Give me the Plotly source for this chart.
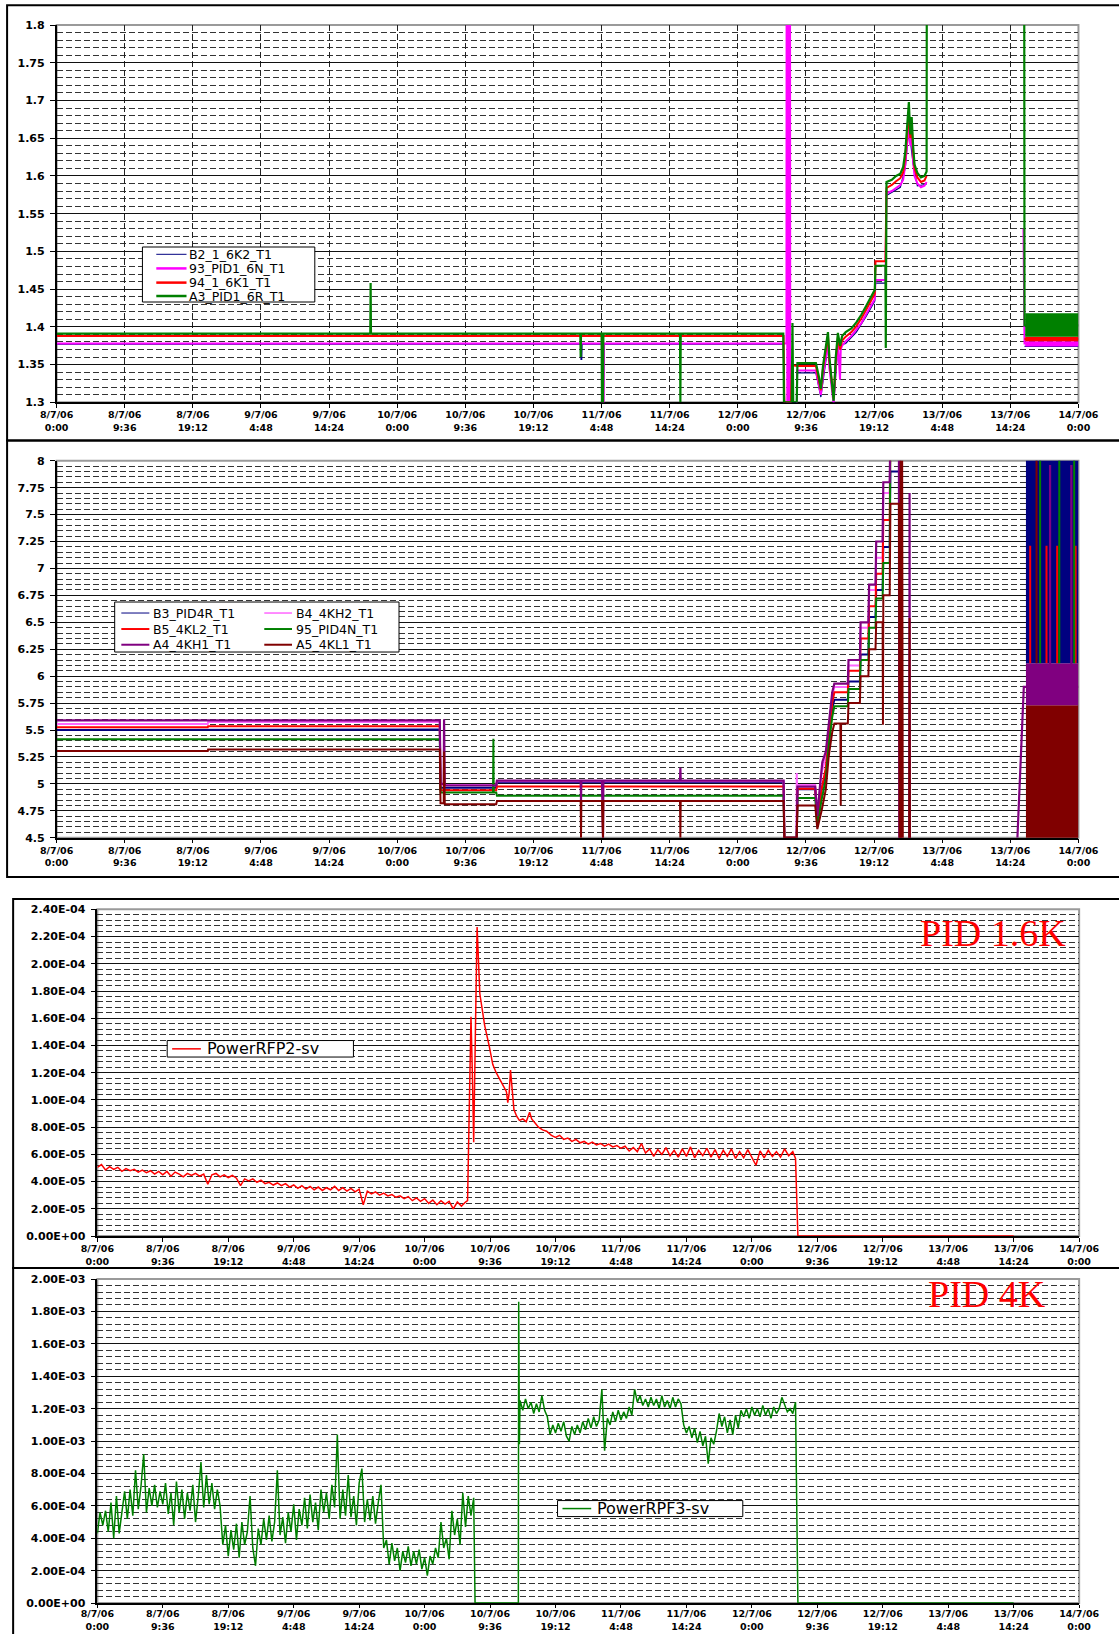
import plotly.graph_objects as go

W, H = 1119, 1634

# ---------------- shared x axis (hours after 8/7/06 0:00) ----------------
X_TICK_HOURS = [0, 9.6, 19.2, 28.8, 38.4, 48, 57.6, 67.2, 76.8, 86.4, 96, 105.6, 115.2, 124.8, 134.4, 144]
X_TICK_LABELS = ["8/7/06<br>0:00", "8/7/06<br>9:36", "8/7/06<br>19:12", "9/7/06<br>4:48",
                 "9/7/06<br>14:24", "10/7/06<br>0:00", "10/7/06<br>9:36", "10/7/06<br>19:12",
                 "11/7/06<br>4:48", "11/7/06<br>14:24", "12/7/06<br>0:00", "12/7/06<br>9:36",
                 "12/7/06<br>19:12", "13/7/06<br>4:48", "13/7/06<br>14:24", "14/7/06<br>0:00"]

# ---------------- panel 1: 1.6K temperatures ----------------
P1_Y_TICKS = [1.3, 1.35, 1.4, 1.45, 1.5, 1.55, 1.6, 1.65, 1.7, 1.75, 1.8]
P1_Y_LABELS = ["1.3", "1.35", "1.4", "1.45", "1.5", "1.55", "1.6", "1.65", "1.7", "1.75", "1.8"]

B2_T = [0, 73.85, 73.9, 74.0, 74.05, 102.4, 102.6, 104.3, 104.35, 107.0, 107.7, 108.7, 109.5, 110.1, 111.2,
        112.7, 114.1, 115.3, 115.4, 116.8, 116.95, 118.9, 119.6, 120.1, 120.7, 121.3, 122.6, 122.65, 136.4, 144]
B2_V = [1.377, 1.377, 1.357, 1.357, 1.377, 1.377, 1.30, 1.30, 1.339, 1.339, 1.307, 1.375, 1.298, 1.375, 1.378,
        1.393, 1.414, 1.434, 1.458, 1.458, 1.574, 1.585, 1.611, 1.664, 1.616, 1.587, 1.589, None, 1.374, 1.374]

P93_T = [0, 76.85, 76.9, 77.1, 77.15, 102.85, 102.9, 102.97, 103.04, 103.11, 103.18, 103.25, 103.32, 103.39,
         104.3, 104.35, 107.0, 107.4, 107.7, 108.0, 108.4, 108.7, 108.9, 109.2, 109.5, 109.8, 110.1, 110.4,
         110.5, 110.7, 111.2, 112.0, 112.7, 113.4, 114.1, 114.8, 115.3, 115.4, 116.8, 116.95, 117.7, 118.3,
         118.9, 119.3, 119.6, 119.9, 120.1, 120.3, 120.5, 120.7, 120.9, 121.3, 121.8, 122.3, 122.6, 122.65,
         136.25, 136.4, 144]
P93_V = [1.378, 1.378, 1.30, 1.30, 1.378, 1.378, 2.5, 1.25, 2.5, 1.25, 2.5, 1.25, 2.5, 1.25,
         1.25, 1.342, 1.342, 1.325, 1.31, 1.335, 1.358, 1.378, 1.345, 1.32, 1.298, 1.345, 1.378, 1.33,
         1.37, 1.375, 1.381, 1.388, 1.396, 1.405, 1.417, 1.428, 1.437, 1.462, 1.462, 1.577, 1.580, 1.584,
         1.588, 1.595, 1.615, 1.648, 1.668, 1.64, 1.655, 1.62, 1.6, 1.59, 1.585, 1.587, 1.592, None,
         1.53, 1.378, 1.378]

P94_T = [0, 102.45, 102.55, 103.5, 103.6, 104.4, 107.0, 107.4, 107.7, 108.0, 108.4, 108.7, 108.9, 109.2,
         109.5, 109.8, 110.1, 110.4, 110.7, 111.2, 112.0, 112.7, 113.4, 114.1, 114.8, 115.3, 115.4, 116.8,
         116.95, 117.7, 118.3, 118.9, 119.3, 119.6, 119.9, 120.1, 120.3, 120.5, 120.7, 120.9, 121.3, 121.8,
         122.3, 122.6, 122.65, 136.4, 144]
P94_V = [1.388, 1.388, 1.30, 1.30, 1.349, 1.348, 1.348, 1.332, 1.316, 1.345, 1.368, 1.388, 1.356, 1.33,
         1.305, 1.355, 1.386, 1.37, 1.382, 1.387, 1.393, 1.401, 1.411, 1.423, 1.435, 1.444, 1.487, 1.487,
         1.584, 1.588, 1.593, 1.597, 1.605, 1.625, 1.66, 1.684, 1.65, 1.668, 1.632, 1.61, 1.598, 1.592,
         1.594, 1.60, None, 1.384, 1.384]

A3_T = [0, 44.2, 44.25, 44.3, 73.8, 73.85, 73.9, 76.8, 76.85, 77.0, 77.05, 87.85, 87.9, 87.95, 102.4, 102.5,
        103.6, 103.7, 103.8, 104.3, 104.4, 107.0, 107.4, 107.7, 108.0, 108.4, 108.7, 108.9, 109.2, 109.5,
        109.8, 110.1, 110.4, 110.7, 111.2, 112.0, 112.7, 113.4, 114.1, 114.8, 115.3, 115.4, 116.8, 116.85,
        116.95, 117.7, 118.3, 118.9, 119.3, 119.6, 119.9, 120.1, 120.3, 120.5, 120.7, 120.9, 121.3, 121.8,
        122.3, 122.6, 122.7, 136.3, 136.4, 144]
A3_V = [1.391, 1.391, 1.458, 1.391, 1.391, 1.36, 1.391, 1.391, 1.30, 1.30, 1.391, 1.391, 1.30, 1.391, 1.391, 1.30,
        1.30, 1.405, 1.30, 1.30, 1.352, 1.352, 1.335, 1.318, 1.348, 1.372, 1.393, 1.36, 1.335, 1.302,
        1.36, 1.392, 1.375, 1.388, 1.393, 1.398, 1.406, 1.416, 1.428, 1.44, 1.449, 1.481, 1.481, 1.372,
        1.592, 1.595, 1.600, 1.603, 1.612, 1.632, 1.668, 1.698, 1.655, 1.678, 1.640, 1.615, 1.604, 1.598,
        1.600, 1.606, 2.5, 2.5, 1.402, 1.402]

# dense oscillation bands at the end of 13/7 (low, high)
P1_BAND_T = [136.5, 144.0]
P1_BAND_93 = [1.374, 1.381]
P1_BAND_94 = [1.381, 1.387]
P1_BAND_A3 = [1.387, 1.418]

# ---------------- panel 2: 4K temperatures ----------------
P2_Y_TICKS = [4.5, 4.75, 5, 5.25, 5.5, 5.75, 6, 6.25, 6.5, 6.75, 7, 7.25, 7.5, 7.75, 8]
P2_Y_LABELS = ["4.5", "4.75", "5", "5.25", "5.5", "5.75", "6", "6.25", "6.5", "6.75", "7", "7.25", "7.5", "7.75", "8"]

B3_T = [0, 21.3, 21.35, 54.0, 54.1, 61.95, 62.05, 102.45, 102.55, 104.3, 104.4, 106.9, 107.2, 107.8, 108.4,
        108.8, 109.3, 109.6, 111.5, 111.6, 113.2, 113.3, 114.4, 114.5, 115.4, 115.5, 116.4, 116.5, 117.4, 117.5, 118.7]
B3_V = [5.50, 5.50, 5.505, 5.505, 4.965, 4.965, 5.015, 5.015, 4.5, 4.5, 4.95, 4.95, 4.68, 4.95, 5.1,
        5.4, 5.7, 5.78, 5.78, 5.95, 5.95, 6.2, 6.2, 6.55, 6.55, 6.8, 6.8, 7.2, 7.2, 7.9, 7.9]

B4_T = [0, 21.3, 21.35, 54.0, 54.1, 61.95, 62.05, 102.45, 102.55, 104.25, 104.3, 104.35, 106.9, 107.2, 107.8,
        108.4, 108.8, 109.3, 109.6, 111.5, 111.6, 113.2, 113.3, 114.4, 114.5, 115.4, 115.5, 116.4, 116.5, 117.4,
        117.5, 118.7]
B4_V = [5.555, 5.555, 5.575, 5.575, 4.99, 4.99, 5.025, 5.025, 4.5, 4.5, 5.1, 4.99, 4.99, 4.72, 5.1,
        5.25, 5.5, 5.8, 5.9, 5.9, 6.1, 6.1, 6.45, 6.45, 6.8, 6.8, 7.1, 7.1, 7.7, 7.7,
        8.3, 8.3]

B5_T = [0, 21.3, 21.35, 54.0, 54.1, 61.95, 62.05, 102.45, 102.55, 104.3, 104.4, 106.9, 107.2, 107.8, 108.4,
        108.8, 109.3, 109.6, 111.5, 111.6, 113.2, 113.3, 114.4, 114.5, 115.4, 115.5, 116.4, 116.5, 117.4, 117.5,
        118.7, 118.75, 137.2, 137.2, 137.25, 139.5, 139.5, 139.55, 141.0, 141.0, 141.05, 143.6, 143.6]
B5_V = [5.525, 5.525, 5.535, 5.535, 4.94, 4.94, 4.975, 4.975, 4.5, 4.5, 4.955, 4.955, 4.65, 4.95, 5.15,
        5.45, 5.75, 5.85, 5.85, 6.05, 6.05, 6.35, 6.35, 6.65, 6.65, 6.95, 6.95, 7.45, 7.45, 8.3,
        8.3, None, 6.12, 7.21, None, 6.12, 7.21, None, 6.12, 7.21, None, 6.12, 7.21]

N95_T = [0, 54.0, 54.1, 61.5, 61.55, 61.6, 61.95, 62.05, 102.45, 102.55, 104.3, 104.4, 106.9, 107.2, 107.8,
         108.4, 108.8, 109.3, 109.6, 111.5, 111.6, 113.2, 113.3, 114.4, 114.5, 115.4, 115.5, 116.4, 116.5, 117.4,
         117.5, 118.7, 118.75, 138.6, 138.6, 138.65, 141.3, 141.3, 141.35, 143.4, 143.4]
N95_V = [5.415, 5.415, 4.92, 4.92, 5.42, 4.92, 4.92, 4.89, 4.89, 4.5, 4.5, 4.87, 4.87, 4.62, 4.85,
         5.05, 5.35, 5.62, 5.72, 5.72, 5.88, 5.88, 6.15, 6.15, 6.45, 6.45, 6.72, 6.72, 7.05, 7.05,
         8.3, 8.3, None, 6.12, 8.3, None, 6.12, 8.3, None, 6.12, 8.3]

A4_T = [0, 54.0, 54.1, 54.55, 54.6, 54.7, 61.95, 62.05, 73.85, 73.9, 73.95, 76.85, 76.9, 77.0, 77.05, 87.85,
        87.9, 87.95, 102.45, 102.55, 104.3, 104.4, 106.9, 107.2, 107.6, 107.9, 108.4, 108.8, 109.3, 109.6,
        111.5, 111.6, 113.2, 113.3, 114.4, 114.5, 115.4, 115.5, 116.4, 116.5, 117.4, 117.5, 118.7, 118.75,
        118.85, 118.95, 119.0, 120.15, 120.2, 120.25, 120.3, 135.4, 136.3, 140.0, 140.0, 140.0, 143.0, 143.0,
        143.0, 144]
A4_V = [5.59, 5.59, 5.0, 5.0, 5.6, 4.985, 4.985, 5.03, 5.03, 4.85, 5.03, 5.03, 4.5, 4.5, 5.03, 5.03,
        5.15, 5.03, 5.03, 4.5, 4.5, 4.975, 4.975, 4.7, 5.0, 5.2, 5.3, 5.55, 5.85, 5.93,
        5.93, 6.15, 6.15, 6.5, 6.5, 6.85, 6.85, 7.25, 7.25, 7.8, 7.8, 8.3, 8.3, 4.4,
        8.3, 4.4, None, 4.4, 7.7, 4.4, None, 4.5, 5.9, 5.9, 7.96, 5.9, 5.9, 7.96,
        5.9, 5.9]

A5_T = [0, 21.3, 21.35, 54.0, 54.1, 54.55, 54.6, 54.7, 61.95, 62.05, 73.85, 73.9, 73.95, 76.85, 76.9, 77.0,
        77.05, 87.85, 87.9, 87.95, 102.45, 102.55, 104.3, 104.4, 106.9, 107.2, 107.8, 108.4, 108.8, 109.3,
        109.6, 110.45, 110.5, 110.55, 111.5, 111.6, 113.2, 113.3, 114.4, 114.5, 115.4, 115.5, 116.4, 116.45,
        116.5, 117.4, 117.5, 118.7, 118.8, 118.95, 119.05, 119.15, 119.25, 119.3, 120.15, 120.2, 120.25,
        120.3, 138.1, 138.1]
A5_V = [5.305, 5.305, 5.32, 5.32, 4.82, 4.82, 5.3, 4.81, 4.81, 4.84, 4.84, 4.5, 4.84, 4.84, 4.5, 4.5,
        4.84, 4.84, 4.5, 4.84, 4.84, 4.5, 4.5, 4.80, 4.80, 4.58, 4.75, 4.95, 5.25, 5.48,
        5.56, 5.56, 4.8, 5.56, 5.56, 5.75, 5.75, 6.0, 6.0, 6.25, 6.25, 6.5, 6.5, 5.55,
        6.75, 6.75, 7.6, 7.6, 4.4, 8.3, 4.4, 8.3, 4.4, None, 4.4, 6.54, 4.4,
        None, 6.12, 8.3]

P2_BAND_T = [136.6, 144.0]
P2_BAND_A5 = [4.4, 5.73]
P2_BAND_A4 = [5.73, 6.12]
P2_BAND_B3 = [6.12, 8.4]

# ---------------- panel 3: PowerRFP2-sv (units of 1e-5) ----------------
P3_Y_TICKS = [0, 2e-5, 4e-5, 6e-5, 8e-5, 1e-4, 1.2e-4, 1.4e-4, 1.6e-4, 1.8e-4, 2e-4, 2.2e-4, 2.4e-4]
P3_Y_LABELS = ["0.00E+00", "2.00E-05", "4.00E-05", "6.00E-05", "8.00E-05", "1.00E-04", "1.20E-04",
               "1.40E-04", "1.60E-04", "1.80E-04", "2.00E-04", "2.20E-04", "2.40E-04"]

RFP2_A_START, RFP2_A_STEP = 0.0, 0.6
RFP2_A = [5.05, 5.25, 4.85, 5.1, 4.9, 5.05, 4.75, 4.95, 4.8, 4.9,
          4.7, 4.85, 4.65, 4.8, 4.55, 4.75, 4.5, 4.75, 4.4, 4.7,
          4.55, 4.35, 4.6, 4.45, 4.6, 4.4, 4.55, 3.8, 4.5, 4.6,
          4.35, 4.5, 4.3, 4.45, 4.25, 3.7, 4.2, 4.05, 4.2, 3.95,
          4.1, 3.85, 3.95, 3.75, 3.9, 3.7, 3.85, 3.6, 3.75, 3.5,
          3.7, 3.45, 3.65, 3.4, 3.6, 3.35, 3.55, 3.4, 3.65, 3.35,
          3.55, 3.3, 3.5, 3.25, 3.45, 2.3, 3.3, 3.1, 3.25, 3.0,
          3.15, 2.95, 3.05, 2.85, 2.95, 2.75, 2.9, 2.6, 2.8, 2.55,
          2.75, 2.4, 2.65, 2.3, 2.6, 2.35, 2.55, 2.0, 2.5, 2.2,
          2.5]
RFP2_B_T = [54.3, 54.5, 54.8, 55.0, 55.2, 55.45, 55.7, 56.1, 56.8, 57.5, 58.0, 58.5, 59.0, 59.6, 60.0, 60.2,
            60.4, 60.6, 60.8, 61.1, 61.5, 61.9, 62.4, 62.9, 63.4, 63.7, 64.2, 64.7, 65.3, 65.9, 66.6]
RFP2_B = [2.6, 8.0, 16.1, 12.0, 6.9, 15.0, 22.7, 17.8, 15.5, 13.9, 12.6, 12.0, 11.5, 11.0, 10.6, 9.8,
          10.5, 12.2, 11.0, 9.3, 8.8, 8.5, 8.6, 8.4, 9.1, 8.6, 8.3, 8.0, 7.8, 7.7, 7.4]
RFP2_C_START, RFP2_C_STEP = 67.2, 0.6
RFP2_C = [7.25, 7.4, 7.1, 7.2, 6.95, 7.1, 6.85, 6.95, 6.75, 6.9,
          6.7, 6.8, 6.6, 6.75, 6.55, 6.65, 6.45, 6.6, 6.25, 6.5,
          6.2, 6.8, 6.1, 6.4, 5.85, 6.35, 6.0, 6.5, 5.9, 6.3,
          5.8, 6.4, 5.85, 6.55, 5.75, 6.3, 5.9, 6.45, 5.8, 6.35,
          5.7, 6.3, 5.85, 6.4, 5.7, 6.2, 5.75, 6.35, 5.8, 5.2,
          6.25, 5.75, 6.3, 5.85, 6.2, 5.8, 6.4, 5.9, 6.2]
RFP2_D_T = [102.4, 102.75, 134.4]
RFP2_D = [5.7, 0.0, 0.0]

# ---------------- panel 4: PowerRPF3-sv (units of 1e-4) ----------------
P4_Y_TICKS = [0, 2e-4, 4e-4, 6e-4, 8e-4, 1e-3, 1.2e-3, 1.4e-3, 1.6e-3, 1.8e-3, 2e-3]
P4_Y_LABELS = ["0.00E+00", "2.00E-04", "4.00E-04", "6.00E-04", "8.00E-04", "1.00E-03", "1.20E-03",
               "1.40E-03", "1.60E-03", "1.80E-03", "2.00E-03"]

RPF3_A_START, RPF3_A_STEP = 0.0, 0.4
RPF3_A = [4.3, 5.6, 4.8, 5.7, 4.4, 6.2, 4.0, 6.6, 4.3, 5.5,
          6.9, 5.2, 7.0, 5.4, 8.2, 5.8, 7.2, 9.2, 5.6, 7.1,
          6.0, 7.3, 5.9, 6.9, 6.1, 7.4, 5.5, 6.8, 4.8, 7.5,
          5.6, 7.0, 5.2, 6.8, 5.7, 7.3, 5.0, 6.6, 8.7, 5.9,
          7.9, 6.1, 7.4, 5.8, 7.0, 6.0, 3.6, 4.8, 2.9, 4.5,
          3.3, 4.9, 2.8, 5.0, 3.6, 4.4, 6.6, 3.4, 2.3, 4.6,
          3.6, 5.2, 3.9, 5.4, 3.8, 5.0, 8.2, 4.2, 5.3, 3.7,
          5.6, 4.4, 6.1, 3.9, 5.8, 4.8, 6.5, 4.6, 6.7, 5.0,
          6.2, 4.5, 7.0, 5.6, 6.8, 5.2, 7.3, 5.9, 10.4, 5.2,
          7.0, 5.4, 7.9, 5.3, 6.6, 4.8, 7.4, 8.3, 5.0, 6.4,
          5.1, 6.6, 4.9, 6.2, 7.3, 3.4, 3.9, 2.4, 3.7, 2.6,
          3.4, 2.0, 3.2, 2.5, 3.5, 2.3, 3.2, 2.4, 3.3, 2.1,
          2.8, 1.7, 2.9, 2.4, 3.4, 2.8, 5.0, 3.4, 4.0, 2.7,
          5.7, 4.2, 5.2, 3.6, 6.8, 4.7, 6.6, 5.4, 6.5]
RPF3_B_T = [55.4, 61.75, 61.8, 61.9]
RPF3_B = [0.0, 0.0, 18.6, 9.8]
RPF3_C_START, RPF3_C_STEP = 62.0, 0.4
RPF3_C = [12.5, 11.9, 12.6, 12.0, 12.4, 11.7, 12.3, 11.8, 12.8, 11.9,
          11.5, 10.4, 11.0, 10.5, 11.1, 10.6, 11.2, 10.3, 10.0, 10.9,
          10.4, 11.0, 10.5, 11.2, 10.7, 11.4, 10.8, 11.5, 10.9, 11.3,
          13.2, 9.4, 11.4, 11.0, 11.8, 11.2, 11.9, 11.3, 11.8, 11.4,
          12.1, 11.6, 13.2, 12.4, 12.8, 12.2, 12.6, 12.1, 12.7, 12.2,
          12.6, 12.0, 12.8, 12.1, 12.5, 12.0, 12.7, 12.1, 12.6, 12.3,
          11.0, 10.5, 10.9, 10.2, 10.8, 9.9, 10.6, 9.7, 10.3, 8.6,
          10.2, 9.8, 10.6, 11.7, 10.9, 11.5, 10.5, 11.3, 10.4, 11.6,
          10.8, 11.9, 11.5, 12.0, 11.4, 12.1, 11.6, 12.0, 11.5, 12.2,
          11.6, 12.0, 11.4, 12.1, 11.7, 12.0, 12.7, 12.2, 11.8, 12.0,
          11.7, 12.4]
RPF3_D_T = [102.75, 134.4]
RPF3_D = [0.0, 0.0]

# ---------------- colours ----------------
NAVY, MAGENTA, RED, GREEN = "#000080", "#FF00FF", "#FF0000", "#008000"
PINK, PURPLE, MAROON = "#FF66FF", "#800080", "#800000"


def grid_times(start, step, vals):
    return [round(start + i * step, 3) for i in range(len(vals))]


fig = go.Figure()


def add_line(name, t, v, color, width, xa, ya):
    fig.add_trace(go.Scatter(x=t, y=v, name=name, mode="lines", line=dict(color=color, width=width),
                             xaxis=xa, yaxis=ya, showlegend=False, hoverinfo="skip", connectgaps=False))


def add_band(t, band, color, xa, ya):
    fig.add_trace(go.Scatter(x=[t[0], t[1], t[1], t[0], t[0]], y=[band[0], band[0], band[1], band[1], band[0]],
                             mode="lines", fill="toself", fillcolor=color, line=dict(width=0, color=color),
                             xaxis=xa, yaxis=ya, showlegend=False, hoverinfo="skip"))


# panel 1
add_line("B2_1_6K2_T1", B2_T, B2_V, NAVY, 1.2, "x", "y")
add_line("93_PID1_6N_T1", P93_T, P93_V, MAGENTA, 2, "x", "y")
add_line("94_1_6K1_T1", P94_T, P94_V, RED, 2, "x", "y")
add_line("A3_PID1_6R_T1", A3_T, A3_V, GREEN, 2.2, "x", "y")
add_band(P1_BAND_T, P1_BAND_93, MAGENTA, "x", "y")
add_band(P1_BAND_T, P1_BAND_94, RED, "x", "y")
add_band(P1_BAND_T, P1_BAND_A3, GREEN, "x", "y")

# panel 2
add_band(P2_BAND_T, P2_BAND_A5, MAROON, "x2", "y2")
add_band(P2_BAND_T, P2_BAND_A4, PURPLE, "x2", "y2")
add_band(P2_BAND_T, P2_BAND_B3, NAVY, "x2", "y2")
add_line("B3_PID4R_T1", B3_T, B3_V, NAVY, 2, "x2", "y2")
add_line("B4_4KH2_T1", B4_T, B4_V, PINK, 2, "x2", "y2")
add_line("B5_4KL2_T1", B5_T, B5_V, RED, 2, "x2", "y2")
add_line("95_PID4N_T1", N95_T, N95_V, GREEN, 2, "x2", "y2")
add_line("A4_4KH1_T1", A4_T, A4_V, PURPLE, 2.2, "x2", "y2")
add_line("A5_4KL1_T1", A5_T, A5_V, MAROON, 2, "x2", "y2")

# panel 3
p3_t = grid_times(RFP2_A_START, RFP2_A_STEP, RFP2_A) + RFP2_B_T + grid_times(RFP2_C_START, RFP2_C_STEP, RFP2_C) + RFP2_D_T
p3_v = [v * 1e-5 for v in RFP2_A + RFP2_B + RFP2_C + RFP2_D]
add_line("PowerRFP2-sv", p3_t, p3_v, RED, 1.5, "x3", "y3")

# panel 4
p4_t = grid_times(RPF3_A_START, RPF3_A_STEP, RPF3_A) + RPF3_B_T + grid_times(RPF3_C_START, RPF3_C_STEP, RPF3_C) + RPF3_D_T
p4_v = [v * 1e-4 for v in RPF3_A + RPF3_B + RPF3_C + RPF3_D]
add_line("PowerRPF3-sv", p4_t, p4_v, GREEN, 1.5, "x4", "y4")

# ---------------- placement (target picture pixels -> paper fractions) ----------------
# the photographed page is offset/scaled slightly; these constants undo that
CAL_SX, CAL_OX = 0.976, 16.4
CAL_SY, CAL_OY = 0.992, 6.0


def fx(X):
    return (X - CAL_OX) / CAL_SX / W


def fy(Y):
    return 1 - (Y - CAL_OY) / CAL_SY / H


# ---------------- axes ----------------
Y_TICK_FONT = dict(family="DejaVu Sans", size=11, color="black", weight="bold")
X_TICK_FONT = dict(family="DejaVu Sans", size=9.5, color="black", weight="bold")
GRID_DASH = "6px,3px"


def xaxis(domain, anchor, grid, ticklen=4, standoff=-1):
    return dict(domain=domain, anchor=anchor, range=[0, 144], tickmode="array", tickvals=X_TICK_HOURS,
                ticktext=X_TICK_LABELS, tickangle=0, tickfont=X_TICK_FONT, showline=True, linecolor="black",
                linewidth=1.5, ticks="outside", ticklen=ticklen, tickcolor="black", ticklabelstandoff=standoff,
                showgrid=grid, gridcolor="#222222", gridwidth=1, griddash=GRID_DASH, zeroline=False,
                fixedrange=True, layer="below traces")


def yaxis(domain, anchor, rng, tickvals, ticktext, minor_vals):
    return dict(domain=domain, anchor=anchor, range=rng, tickmode="array", tickvals=tickvals, ticktext=ticktext,
                tickfont=Y_TICK_FONT, showline=True, linecolor="black", linewidth=1.5, ticks="outside",
                ticklen=5, tickcolor="black", ticklabelstandoff=3, showgrid=True, gridcolor="#111111",
                gridwidth=1, zeroline=False, fixedrange=True,
                minor=dict(tickmode="array", tickvals=minor_vals, showgrid=True, gridcolor="#333333",
                           gridwidth=1, griddash=GRID_DASH, ticks=""))


P1_MINOR = [round(1.3 + 0.01 * i, 4) for i in range(51) if i % 5]
P2_MINOR = [round(4.5 + 0.05 * i, 4) for i in range(71) if i % 5]
P3_MINOR = [4e-6 * i for i in range(61) if i % 5]
P4_MINOR = [4e-5 * i for i in range(51) if i % 5]

XD12 = [fx(56.4), fx(1087.8)]
XD34 = [fx(97.5), fx(1088.5)]
YD1 = [fy(402.3), fy(25)]
YD2 = [fy(837.7), fy(460.7)]
YD3 = [fy(1236), fy(909.3)]
YD4 = [fy(1603), fy(1279)]

shapes = []
annotations = []

# outer panel boxes (left, top, bottom in picture pixels); right side runs off the picture
for (x0, y0, y1) in [(6.4, 5.3, 440.5), (6.4, 440.5, 877), (12.5, 899, 1268), (12.5, 1268, 1700)]:
    shapes.append(dict(type="rect", xref="paper", yref="paper", x0=fx(x0), x1=fx(1180), y0=fy(y1), y1=fy(y0),
                       line=dict(color="black", width=2), fillcolor="rgba(0,0,0,0)", layer="above"))

# grey plot-area frames
for xr, yr in [("x", "y"), ("x2", "y2"), ("x3", "y3"), ("x4", "y4")]:
    shapes.append(dict(type="rect", xref=xr + " domain", yref=yr + " domain", x0=0, x1=1, y0=0, y1=1,
                       line=dict(color="#9a9a9a", width=2), layer="below"))


def legend_box(x0, y0, x1, y1):
    shapes.append(dict(type="rect", xref="paper", yref="paper", x0=fx(x0), x1=fx(x1), y0=fy(y1), y1=fy(y0),
                       line=dict(color="black", width=1), fillcolor="white", layer="above"))


def legend_item(lx0, lx1, y, color, width, text, tx, size):
    shapes.append(dict(type="line", xref="paper", yref="paper", x0=fx(lx0), x1=fx(lx1), y0=fy(y), y1=fy(y),
                       line=dict(color=color, width=width), layer="above"))
    annotations.append(dict(xref="paper", yref="paper", x=fx(tx), y=fy(y), text=text, showarrow=False,
                            xanchor="left", yanchor="middle",
                            font=dict(family="DejaVu Sans", size=size, color="black")))


# legend panel 1
legend_box(143, 247, 317, 302)
legend_item(157, 187.5, 254.3, NAVY, 1, "B2_1_6K2_T1", 188, 12.5)
legend_item(157, 187.5, 268.4, MAGENTA, 2.5, "93_PID1_6N_T1", 188, 12.5)
legend_item(157, 187.5, 282.6, RED, 2.5, "94_1_6K1_T1", 188, 12.5)
legend_item(157, 187.5, 296.0, GREEN, 2.5, "A3_PID1_6R_T1", 188, 12.5)

# legend panel 2
legend_box(115, 602, 402, 652)
legend_item(121.7, 150, 613, NAVY, 1, "B3_PID4R_T1", 152, 12.5)
legend_item(266, 294, 613, PINK, 1.5, "B4_4KH2_T1", 296, 12.5)
legend_item(121.7, 150, 629, RED, 2, "B5_4KL2_T1", 152, 12.5)
legend_item(266, 294, 629, GREEN, 2, "95_PID4N_T1", 296, 12.5)
legend_item(121.7, 150, 644.7, PURPLE, 2, "A4_4KH1_T1", 152, 12.5)
legend_item(266, 294, 644.7, MAROON, 2, "A5_4KL1_T1", 296, 12.5)

# legend panel 3
legend_box(168, 1040.5, 356, 1057)
legend_item(173, 202, 1048.8, RED, 1.5, "PowerRFP2-sv", 206, 16)

# legend panel 4
legend_box(562, 1500.5, 749, 1516.5)
legend_item(567, 596, 1508.5, GREEN, 1.5, "PowerRPF3-sv", 600, 16)

# PID labels
annotations.append(dict(xref="paper", yref="paper", x=fx(1077), y=fy(933), text="PID 1.6K", showarrow=False,
                        xanchor="right", yanchor="middle",
                        font=dict(family="Liberation Serif", size=38, color="#FF0000")))
annotations.append(dict(xref="paper", yref="paper", x=fx(1057), y=fy(1294), text="PID 4K", showarrow=False,
                        xanchor="right", yanchor="middle",
                        font=dict(family="Liberation Serif", size=38, color="#FF0000")))

fig.update_layout(
    width=W, height=H, autosize=False,
    margin=dict(l=0, r=0, t=0, b=0),
    paper_bgcolor="white", plot_bgcolor="white",
    showlegend=False,
    xaxis=xaxis(XD12, "y", True),
    xaxis2=xaxis(XD12, "y2", False),
    xaxis3=xaxis(XD34, "y3", False),
    xaxis4=xaxis(XD34, "y4", False, ticklen=3, standoff=-2),
    yaxis=yaxis(YD1, "x", [1.3, 1.8], P1_Y_TICKS, P1_Y_LABELS, P1_MINOR),
    yaxis2=yaxis(YD2, "x2", [4.5, 8], P2_Y_TICKS, P2_Y_LABELS, P2_MINOR),
    yaxis3=yaxis(YD3, "x3", [0, 2.4e-4], P3_Y_TICKS, P3_Y_LABELS, P3_MINOR),
    yaxis4=yaxis(YD4, "x4", [0, 2e-3], P4_Y_TICKS, P4_Y_LABELS, P4_MINOR),
    shapes=shapes,
    annotations=annotations,
)

# the page body margin would otherwise offset the 1119x1634 figure inside the window
fig.write_html("out.html", config={"displayModeBar": False},
               post_script="document.body.style.margin='0';document.body.style.overflow='hidden';")
